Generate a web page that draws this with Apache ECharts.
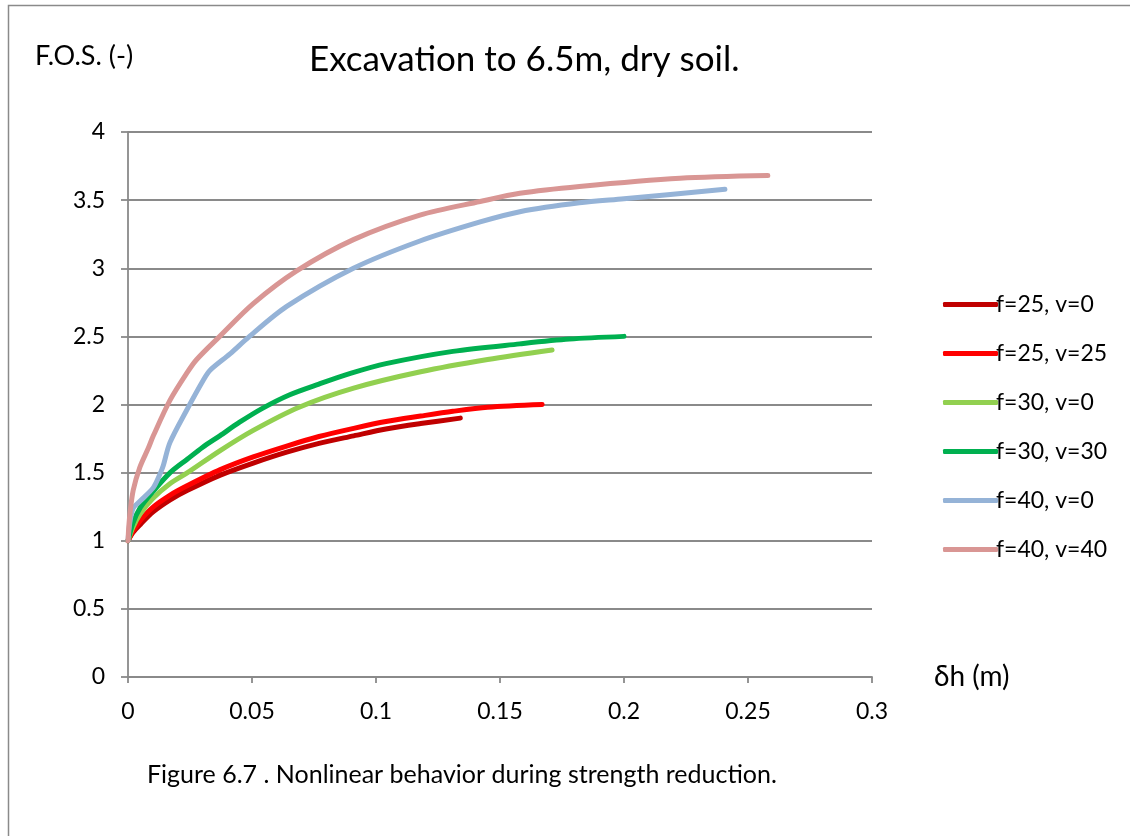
<!DOCTYPE html>
<html>
<head>
<meta charset="utf-8">
<script src="https://cdn.jsdelivr.net/npm/echarts@6/dist/echarts.min.js"></script>
<style>
html,body{margin:0;padding:0;background:#fff;}
#c{width:1130px;height:836px;}
</style>
</head>
<body>
<div id="c"></div>
<script>
// ---- data ----
const seriesNames = ['f=25, v=0', 'f=25, v=25', 'f=30, v=0', 'f=30, v=30', 'f=40, v=0', 'f=40, v=40'];

const f25v0_x = [0, 0.002, 0.005, 0.01, 0.017, 0.024, 0.037, 0.0505, 0.064, 0.077, 0.091, 0.104, 0.118, 0.134];
const f25v0_y = [1.0, 1.06, 1.12, 1.21, 1.30, 1.37, 1.48, 1.57, 1.65, 1.715, 1.77, 1.82, 1.86, 1.90];

const f25v25_x = [0, 0.002, 0.005, 0.01, 0.017, 0.024, 0.037, 0.0505, 0.064, 0.077, 0.091, 0.104, 0.118, 0.131, 0.145, 0.167];
const f25v25_y = [1.0, 1.07, 1.15, 1.245, 1.335, 1.405, 1.52, 1.615, 1.695, 1.765, 1.825, 1.875, 1.915, 1.95, 1.98, 2.0];

const f30v0_x = [0, 0.002, 0.005, 0.01, 0.017, 0.024, 0.037, 0.0505, 0.069, 0.091, 0.118, 0.145, 0.171];
const f30v0_y = [1.0, 1.10, 1.20, 1.31, 1.42, 1.50, 1.66, 1.81, 1.98, 2.12, 2.24, 2.33, 2.40];

const f30v30_x = [0, 0.002, 0.005, 0.01, 0.017, 0.024, 0.030, 0.037, 0.045, 0.054, 0.065, 0.077, 0.090, 0.104, 0.131, 0.158, 0.178, 0.2];
const f30v30_y = [1.0, 1.13, 1.245, 1.36, 1.50, 1.60, 1.685, 1.77, 1.87, 1.97, 2.07, 2.15, 2.23, 2.30, 2.39, 2.445, 2.48, 2.50];

const f40v0_x = [0, 0.0008, 0.0021, 0.0048, 0.0102, 0.0129, 0.0142, 0.0169, 0.0237, 0.0304, 0.033, 0.041, 0.049, 0.064, 0.0909, 0.1177, 0.142, 0.158, 0.182, 0.2, 0.2407];
const f40v0_y = [1.0, 1.14, 1.24, 1.29, 1.39, 1.49, 1.55, 1.72, 1.96, 2.18, 2.25, 2.37, 2.50, 2.72, 3.0, 3.20, 3.34, 3.415, 3.48, 3.51, 3.58];

const f40v40_x = [0, 0.0003, 0.0008, 0.0021, 0.0048, 0.0082, 0.0102, 0.0169, 0.0237, 0.0277, 0.037, 0.0505, 0.068, 0.0909, 0.1177, 0.142, 0.158, 0.182, 0.2226, 0.258];
const f40v40_y = [1.0, 1.10, 1.20, 1.37, 1.54, 1.68, 1.77, 2.03, 2.23, 2.33, 2.50, 2.74, 2.98, 3.21, 3.39, 3.49, 3.55, 3.60, 3.66, 3.68];

const xTicks = [0, 0.05, 0.1, 0.15, 0.2, 0.25, 0.3];
const yTicks = [0, 0.5, 1, 1.5, 2, 2.5, 3, 3.5, 4];

const seriesX = [f25v0_x, f25v25_x, f30v0_x, f30v30_x, f40v0_x, f40v40_x];
const seriesY = [f25v0_y, f25v25_y, f30v0_y, f30v30_y, f40v0_y, f40v40_y];
const colors = ['#C00000', '#FF0000', '#92D050', '#00B050', '#95B3D7', '#D99694'];

const FONT = 'Lato, "Open Sans", sans-serif';

function pairs(xs, ys) { return xs.map((x, i) => [x, ys[i]]); }

const chart = echarts.init(document.getElementById('c'), null, {renderer: 'canvas'});

const series = seriesNames.map((name, i) => ({
  name: name,
  type: 'line',
  data: pairs(seriesX[i], seriesY[i]),
  showSymbol: false,
  symbol: 'none',
  smooth: 0.3,
  lineStyle: {color: colors[i], width: 5, cap: 'round', join: 'round'},
  itemStyle: {color: colors[i]},
  emphasis: {disabled: true},
  animation: false
}));

chart.setOption({
  animation: false,
  backgroundColor: '#fff',
  color: colors,
  title: {
    text: 'Excavation to 6.5m, dry soil.',
    left: 304,
    top: 37,
    textStyle: {fontFamily: FONT, fontSize: 35, fontWeight: 'normal', color: '#000'}
  },
  grid: {left: 128, right: 258, top: 132, bottom: 159, containLabel: false},
  xAxis: {
    type: 'value',
    min: 0, max: 0.3, interval: 0.05,
    name: 'δh (m)',
    nameLocation: 'end',
    nameGap: 62,
    nameTextStyle: {fontFamily: FONT, fontSize: 28, color: '#000', verticalAlign: 'middle', padding: [12, 0, 0, 0]},
    axisLine: {show: true, onZero: false, lineStyle: {color: '#8a8a8a', width: 1.8}},
    axisTick: {show: true, inside: false, length: 6, lineStyle: {color: '#8a8a8a', width: 1.8}},
    axisLabel: {fontFamily: FONT, fontSize: 23, color: '#000', margin: 23,
      formatter: v => String(xTicks.find(t => Math.abs(t - v) < 1e-9) ?? v)},
    splitLine: {show: false}
  },
  yAxis: {
    type: 'value',
    min: 0, max: 4, interval: 0.5,
    axisLine: {show: true, lineStyle: {color: '#8a8a8a', width: 1.8}},
    axisTick: {show: true, inside: false, length: 7, lineStyle: {color: '#8a8a8a', width: 1.8}},
    axisLabel: {fontFamily: FONT, fontSize: 23, color: '#000', margin: 23,
      formatter: v => String(yTicks.find(t => Math.abs(t - v) < 1e-9) ?? v)},
    splitLine: {show: true, lineStyle: {color: '#8a8a8a', width: 1.8}}
  },
  legend: {
    orient: 'vertical',
    left: 938,
    top: 288,
    itemWidth: 55,
    itemHeight: 5,
    itemGap: 26,
    icon: 'roundRect',
    selectedMode: false,
    data: seriesNames,
    textStyle: {fontFamily: FONT, fontSize: 23, color: '#000', padding: [0, 0, 0, -7], lineHeight: 22}
  },
  graphic: [
    {type: 'rect', silent: true, z: -1, shape: {x: 8.5, y: 5.5, width: 1200, height: 900},
      style: {fill: 'none', stroke: '#8a8a8a', lineWidth: 1.5}},
    {type: 'text', left: 35, top: 43, silent: true,
      style: {text: 'F.O.S. (-)', font: '27px ' + FONT, fill: '#000'}},
    {type: 'text', left: 147, top: 762, silent: true,
      style: {text: 'Figure 6.7 . Nonlinear behavior during strength reduction.', font: '25px ' + FONT, fill: '#000'}}
  ],
  series: series
});
</script>
</body>
</html>
